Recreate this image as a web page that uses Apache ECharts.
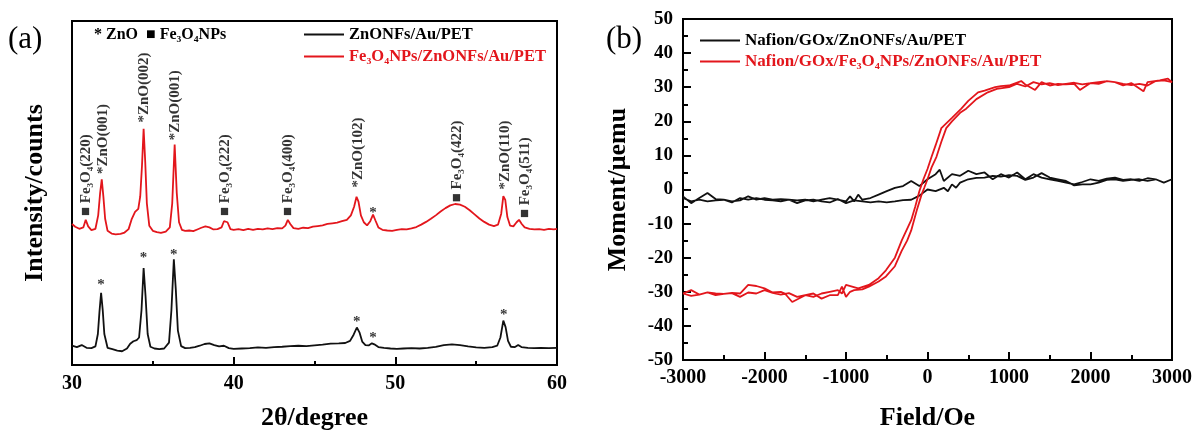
<!DOCTYPE html>
<html>
<head>
<meta charset="utf-8">
<script src="https://cdn.jsdelivr.net/npm/echarts@6/dist/echarts.min.js"></script>
<style>
  html, body { margin: 0; padding: 0; background: #fff; }
  #main { width: 1195px; height: 436px; }
</style>
</head>
<body>
<div id="main"></div>
<script>
var chart = echarts.init(document.getElementById('main'));

var RED = '#e3161c';
var BLACK = '#111111';
var SERIF = 'Liberation Serif';

// (a) XRD patterns, [2theta, intensity (a.u., offset)]
var xrdBlack = [
    [30.0, 5.6], [30.3, 5.2], [30.6, 5.8], [30.9, 5.0], [31.2, 4.9], [31.45, 5.4], [31.6, 9.0], [31.7, 15.5],
    [31.8, 21.0], [31.9, 16.0], [32.0, 9.0], [32.2, 5.0], [32.5, 4.6], [32.8, 4.2], [33.1, 4.0], [33.4, 4.8],
    [33.6, 6.2], [33.8, 6.9], [34.0, 7.2], [34.15, 8.0], [34.3, 16.0], [34.43, 28.2], [34.55, 20.0],
    [34.68, 9.0], [34.85, 5.3], [35.1, 4.8], [35.4, 4.6], [35.7, 4.8], [36.0, 6.5], [36.15, 16.0],
    [36.3, 30.7], [36.42, 22.0], [36.55, 10.0], [36.75, 5.5], [37.0, 4.9], [37.3, 5.0], [37.6, 5.2],
    [37.9, 5.6], [38.2, 6.1], [38.5, 6.3], [38.8, 5.8], [39.1, 5.4], [39.4, 5.6], [39.7, 4.9], [40.0, 4.7],
    [40.5, 4.8], [41.0, 4.9], [41.5, 5.1], [42.0, 5.0], [42.5, 5.2], [43.0, 5.3], [43.5, 5.5], [44.0, 5.6],
    [44.5, 5.5], [45.0, 5.7], [45.5, 5.9], [46.0, 6.2], [46.5, 6.3], [46.9, 6.4], [47.2, 7.0], [47.42, 8.8],
    [47.62, 10.9], [47.78, 9.5], [47.95, 6.8], [48.15, 5.8], [48.35, 5.7], [48.55, 6.3], [48.7, 6.0],
    [48.95, 5.2], [49.3, 5.0], [49.7, 4.8], [50.1, 4.7], [50.5, 4.8], [51.0, 4.9], [51.5, 4.8], [52.0, 5.0],
    [52.5, 5.3], [53.0, 5.8], [53.5, 6.0], [54.0, 5.8], [54.5, 5.4], [55.0, 5.1], [55.5, 5.0], [56.0, 5.2],
    [56.3, 5.6], [56.5, 8.0], [56.68, 12.9], [56.82, 11.0], [56.97, 7.0], [57.15, 5.3], [57.4, 5.2],
    [57.6, 5.8], [57.8, 5.2], [58.2, 5.0], [58.6, 4.9], [59.0, 5.0], [59.5, 4.9], [60.0, 5.0]
];

var xrdRed = [
    [30.0, 41.0], [30.2, 40.2], [30.45, 39.6], [30.7, 40.0], [30.85, 42.2], [31.0, 40.3], [31.2, 39.2],
    [31.45, 39.6], [31.62, 43.5], [31.74, 50.0], [31.84, 54.0], [31.94, 49.0], [32.05, 42.5], [32.2, 39.0],
    [32.45, 38.2], [32.7, 38.0], [33.0, 38.1], [33.25, 38.5], [33.5, 39.5], [33.7, 42.5], [33.9, 44.5],
    [34.1, 45.4], [34.22, 49.0], [34.33, 58.0], [34.43, 68.7], [34.53, 59.0], [34.63, 47.0], [34.78, 40.5],
    [35.0, 39.0], [35.25, 38.6], [35.5, 38.4], [35.8, 38.8], [36.05, 40.0], [36.2, 47.0], [36.35, 64.1],
    [36.48, 50.0], [36.62, 41.5], [36.8, 39.3], [37.0, 39.0], [37.25, 39.1], [37.5, 38.9], [37.75, 39.4],
    [38.0, 39.9], [38.25, 40.3], [38.5, 40.0], [38.75, 39.4], [39.0, 39.5], [39.25, 40.0], [39.4, 41.8],
    [39.5, 42.2], [39.62, 41.5], [39.8, 39.5], [40.0, 39.3], [40.3, 39.5], [40.6, 39.2], [40.9, 39.6],
    [41.2, 39.3], [41.5, 39.6], [41.8, 39.4], [42.1, 39.7], [42.4, 39.5], [42.7, 39.8], [43.0, 39.7],
    [43.2, 40.5], [43.35, 42.2], [43.5, 41.0], [43.7, 39.8], [44.0, 39.6], [44.3, 39.9], [44.6, 39.8],
    [44.9, 40.2], [45.2, 40.4], [45.5, 40.6], [45.8, 41.0], [46.1, 41.2], [46.4, 41.4], [46.7, 41.8],
    [47.0, 42.2], [47.25, 43.5], [47.45, 46.0], [47.6, 48.9], [47.72, 47.5], [47.87, 43.5], [48.05, 41.5],
    [48.25, 40.6], [48.45, 41.8], [48.62, 43.7], [48.77, 42.0], [48.95, 40.0], [49.2, 39.3], [49.5, 39.1],
    [49.8, 39.0], [50.1, 39.3], [50.4, 39.5], [50.7, 39.4], [51.0, 39.7], [51.3, 40.1], [51.6, 40.8],
    [51.9, 41.6], [52.2, 42.5], [52.5, 43.5], [52.8, 44.6], [53.1, 45.6], [53.4, 46.4], [53.7, 46.8],
    [54.0, 46.6], [54.3, 46.0], [54.6, 45.0], [54.9, 43.8], [55.2, 42.6], [55.5, 41.6], [55.8, 40.8],
    [56.1, 40.4], [56.35, 40.8], [56.55, 44.0], [56.68, 49.1], [56.8, 48.0], [56.93, 43.0], [57.1, 40.5],
    [57.3, 40.3], [57.5, 41.5], [57.65, 42.2], [57.82, 41.0], [58.0, 40.0], [58.3, 39.6], [58.6, 39.4],
    [58.9, 39.5], [59.2, 39.3], [59.5, 39.6], [59.8, 39.4], [60.0, 39.6]
];

// peak labels: [2theta, intensity at label foot, text]
var peakLabels = [
    [30.85, 43.3, '■ Fe₃O₄(220)'],
    [31.92, 55.5, '*ZnO(001)'],
    [34.45, 70.5, '*ZnO(002)'],
    [36.4, 65.3, '*ZnO(001)'],
    [39.48, 43.3, '■ Fe₃O₄(222)'],
    [43.35, 43.3, '■ Fe₃O₄(400)'],
    [47.67, 51.6, '*ZnO(102)'],
    [53.82, 47.3, '■ Fe₃O₄(422)'],
    [56.8, 51.0, '*ZnO(110)'],
    [58.05, 42.7, '■ Fe₃O₄(511)']
];
var starMarks = [
    [31.8, 23.2], [34.43, 31.2], [36.3, 31.8], [47.62, 12.6], [48.62, 7.7], [56.7, 14.6], [48.62, 44.1]
];

// (b) M-H loops, [field Oe, moment uemu]
var blackUp = [
    [-3000, -2.5], [-2900, -3.5], [-2800, -3.0], [-2700, -3.5], [-2600, -3.2], [-2500, -3.0], [-2400, -3.8],
    [-2300, -2.5], [-2200, -3.0], [-2100, -2.5], [-2000, -3.0], [-1900, -3.2], [-1800, -3.5], [-1700, -3.0],
    [-1600, -4.0], [-1500, -3.2], [-1400, -3.0], [-1300, -3.5], [-1200, -3.8], [-1100, -2.8], [-1000, -4.0],
    [-900, -3.2], [-800, -3.5], [-700, -3.8], [-600, -3.5], [-500, -3.8], [-400, -3.5], [-300, -3.1],
    [-200, -3.0], [-100, -1.8], [0, 0.0], [100, -0.5], [200, 0.5], [250, -0.5], [300, 1.5], [350, 0.5],
    [400, 2.0], [500, 3.0], [600, 3.4], [700, 3.5], [800, 4.0], [900, 3.8], [1000, 4.2], [1100, 4.0],
    [1200, 2.8], [1300, 3.5], [1400, 4.8], [1500, 3.5], [1600, 3.0], [1700, 2.5], [1800, 1.2], [1900, 1.5],
    [2000, 1.5], [2100, 2.0], [2200, 2.8], [2300, 3.0], [2400, 2.5], [2500, 2.8], [2600, 3.0], [2700, 2.5],
    [2800, 3.0], [2900, 2.0], [3000, 3.0]
];
var blackDown = [
    [3000, 3.0], [2900, 2.0], [2800, 3.0], [2700, 3.3], [2600, 2.5], [2500, 3.0], [2400, 2.8], [2300, 3.5],
    [2200, 3.2], [2100, 2.5], [2000, 3.0], [1900, 2.2], [1800, 1.5], [1700, 2.0], [1600, 2.5], [1500, 3.0],
    [1400, 3.5], [1300, 4.5], [1200, 3.0], [1100, 5.0], [1000, 3.5], [900, 4.5], [800, 3.0], [700, 5.0],
    [600, 4.5], [500, 5.5], [400, 4.0], [300, 4.5], [200, 2.5], [150, 5.8], [100, 4.5], [0, 3.0],
    [-100, 1.0], [-200, 2.5], [-300, 1.0], [-400, 0.5], [-500, -0.5], [-600, -1.5], [-700, -2.5],
    [-800, -3.0], [-850, -1.5], [-900, -3.5], [-950, -2.0], [-1000, -3.5], [-1100, -3.0], [-1200, -2.5],
    [-1300, -3.0], [-1400, -3.5], [-1500, -3.0], [-1600, -3.2], [-1700, -3.0], [-1800, -2.8], [-1900, -3.0],
    [-2000, -2.5], [-2100, -3.0], [-2200, -2.0], [-2300, -3.2], [-2400, -3.5], [-2500, -3.0], [-2600, -2.8],
    [-2700, -1.0], [-2800, -2.5], [-2900, -4.0], [-3000, -2.0]
];
var redUp = [
    [-3000, -30.5], [-2900, -31.2], [-2800, -30.8], [-2700, -30.2], [-2600, -30.5], [-2500, -30.6],
    [-2400, -30.4], [-2300, -31.5], [-2200, -30.2], [-2100, -30.5], [-2000, -29.5], [-1900, -30.3],
    [-1800, -30.8], [-1700, -30.4], [-1600, -31.5], [-1500, -31.0], [-1400, -30.5], [-1300, -32.0],
    [-1200, -31.0], [-1100, -31.0], [-1050, -28.5], [-1000, -31.5], [-950, -30.0], [-900, -29.5],
    [-800, -29.3], [-720, -28.5], [-600, -27.0], [-510, -25.5], [-400, -22.5], [-317, -18.0], [-250, -15.0],
    [-200, -12.0], [-134, -6.3], [-73, -1.5], [-40, 0.5], [0, 3.0], [50, 6.5], [110, 9.6], [170, 14.0],
    [230, 18.0], [300, 20.0], [400, 22.5], [475, 23.7], [600, 26.5], [740, 28.5], [850, 29.5], [1000, 30.0],
    [1100, 31.0], [1200, 30.2], [1300, 31.5], [1400, 30.8], [1500, 31.2], [1600, 30.6], [1700, 31.0],
    [1800, 31.3], [1900, 30.8], [2000, 31.2], [2100, 31.5], [2200, 31.8], [2300, 31.5], [2400, 31.0],
    [2500, 30.6], [2600, 31.0], [2700, 30.5], [2800, 31.8], [2900, 32.0], [3000, 31.5]
];
var redDown = [
    [3000, 31.5], [2950, 32.5], [2850, 32.0], [2700, 31.5], [2650, 28.8], [2500, 31.2], [2400, 30.5],
    [2300, 31.5], [2200, 31.8], [2100, 31.0], [2000, 31.2], [1870, 29.2], [1800, 31.0], [1700, 30.8],
    [1600, 31.0], [1500, 30.5], [1400, 31.5], [1320, 29.2], [1200, 30.8], [1150, 31.8], [1000, 30.5],
    [900, 30.3], [830, 30.0], [700, 29.0], [620, 28.5], [500, 26.0], [415, 23.7], [300, 21.0], [170, 18.0],
    [100, 13.0], [50, 9.6], [0, 6.0], [-50, 3.0], [-100, -0.5], [-150, -5.0], [-200, -9.0], [-317, -15.0],
    [-400, -20.0], [-510, -23.7], [-600, -26.0], [-720, -28.0], [-850, -29.0], [-1000, -28.0],
    [-1050, -30.5], [-1100, -29.5], [-1200, -30.0], [-1300, -30.5], [-1400, -31.5], [-1500, -31.0],
    [-1660, -33.0], [-1750, -30.5], [-1800, -30.0], [-1900, -30.2], [-2000, -29.0], [-2100, -28.3],
    [-2200, -28.0], [-2300, -30.5], [-2400, -30.3], [-2500, -30.6], [-2600, -31.0], [-2700, -30.2],
    [-2800, -30.8], [-2900, -29.5], [-3000, -30.5]
];

var boldText = function (size) {
    return {color: '#000', fontFamily: SERIF, fontWeight: 'bold', fontSize: size};
};
var tickStyle = {color: '#000', width: 2};

var option = {
    backgroundColor: '#fff',
    animation: false,
    graphic: [
        {type: 'text', left: 8, top: 24, style: {text: '(a)', font: '31px "Liberation Serif"', fill: '#000'}},
        {type: 'text', left: 606, top: 24, style: {text: '(b)', font: '31px "Liberation Serif"', fill: '#000'}},
        {type: 'text', left: 94, top: 27, style: {text: '* ZnO  ■ Fe₃O₄NPs', font: 'bold 16px "Liberation Serif"', fill: '#000'}}
    ],
    legend: [
        {
            left: 304, top: 26, padding: 0, orient: 'vertical', itemGap: 5, itemWidth: 40, itemHeight: 2,
            icon: 'rect', textStyle: boldText(16.5),
            data: [
                {name: 'ZnONFs/Au/PET', textStyle: {color: '#000'}},
                {name: 'Fe₃O₄NPs/ZnONFs/Au/PET', textStyle: {color: RED}}
            ]
        },
        {
            left: 700, top: 32, padding: 0, orient: 'vertical', itemGap: 4, itemWidth: 40, itemHeight: 2,
            icon: 'rect', textStyle: boldText(17),
            data: [
                {name: 'Nafion/GOx/ZnONFs/Au/PET', textStyle: {color: '#000'}},
                {name: 'Nafion/GOx/Fe₃O₄NPs/ZnONFs/Au/PET', textStyle: {color: RED}}
            ]
        }
    ],
    grid: [
        {left: 72, top: 21, width: 485, height: 349, show: true, borderColor: '#000', borderWidth: 2},
        {left: 683, top: 19, width: 492, height: 350, show: true, borderColor: '#000', borderWidth: 2}
    ],
    xAxis: [
        {
            gridIndex: 0, type: 'value', min: 30, max: 60, interval: 10,
            name: '2θ/degree', nameLocation: 'middle', nameGap: 40, nameTextStyle: boldText(26),
            axisLine: {onZero: false, lineStyle: tickStyle},
            axisTick: {inside: true, length: 8, lineStyle: tickStyle},
            minorTick: {show: true, splitNumber: 2, length: 4, lineStyle: tickStyle},
            axisLabel: Object.assign({margin: 9}, boldText(20)),
            splitLine: {show: false}
        },
        {
            gridIndex: 1, type: 'value', min: -3000, max: 3000, interval: 1000,
            name: 'Field/Oe', nameLocation: 'middle', nameGap: 45, nameTextStyle: boldText(26),
            axisLine: {onZero: false, lineStyle: tickStyle},
            axisTick: {inside: true, length: 8, lineStyle: tickStyle},
            minorTick: {show: true, splitNumber: 2, length: 5, lineStyle: tickStyle},
            axisLabel: Object.assign({margin: 8, formatter: function (v) { return String(v); }}, boldText(20)),
            splitLine: {show: false}
        }
    ],
    yAxis: [
        {
            gridIndex: 0, type: 'value', min: 0, max: 100,
            name: 'Intensity/counts', nameLocation: 'middle', nameGap: 24, nameTextStyle: boldText(26),
            axisLine: {onZero: false, lineStyle: tickStyle},
            axisTick: {show: false}, axisLabel: {show: false}, splitLine: {show: false}
        },
        {
            gridIndex: 1, type: 'value', min: -50, max: 50, interval: 10,
            name: 'Moment/μemu', nameLocation: 'middle', nameGap: 52, nameTextStyle: boldText(26),
            axisLine: {onZero: false, lineStyle: tickStyle},
            axisTick: {inside: true, length: 8, lineStyle: tickStyle},
            minorTick: {show: true, splitNumber: 2, length: 5, lineStyle: tickStyle},
            axisLabel: Object.assign({margin: 10}, boldText(19)),
            splitLine: {show: false}
        }
    ],
    series: [
        {
            name: 'ZnONFs/Au/PET', type: 'line', xAxisIndex: 0, yAxisIndex: 0,
            showSymbol: false, symbol: 'none', data: xrdBlack,
            lineStyle: {color: BLACK, width: 1.8}, itemStyle: {color: BLACK}
        },
        {
            name: 'Fe₃O₄NPs/ZnONFs/Au/PET', type: 'line', xAxisIndex: 0, yAxisIndex: 0,
            showSymbol: false, symbol: 'none', data: xrdRed,
            lineStyle: {color: RED, width: 1.8}, itemStyle: {color: RED}
        },
        {
            type: 'scatter', xAxisIndex: 0, yAxisIndex: 0, symbolSize: 1, silent: true,
            itemStyle: {color: 'rgba(0,0,0,0)'},
            data: peakLabels,
            label: Object.assign({
                show: true, position: 'inside', rotate: 90, align: 'left', verticalAlign: 'middle',
                formatter: function (p) { return p.value[2]; }
            }, boldText(15))
        },
        {
            type: 'scatter', xAxisIndex: 0, yAxisIndex: 0, symbolSize: 1, silent: true,
            itemStyle: {color: 'rgba(0,0,0,0)'},
            data: starMarks,
            label: Object.assign({show: true, position: 'inside', formatter: '*'}, boldText(15))
        },
        {
            name: 'Nafion/GOx/ZnONFs/Au/PET', type: 'line', xAxisIndex: 1, yAxisIndex: 1,
            showSymbol: false, symbol: 'none', data: blackUp.concat(blackDown),
            lineStyle: {color: BLACK, width: 1.8}, itemStyle: {color: BLACK}
        },
        {
            name: 'Nafion/GOx/Fe₃O₄NPs/ZnONFs/Au/PET', type: 'line', xAxisIndex: 1, yAxisIndex: 1,
            showSymbol: false, symbol: 'none', data: redUp.concat(redDown),
            lineStyle: {color: RED, width: 1.8}, itemStyle: {color: RED}
        }
    ]
};

chart.setOption(option);
</script>
</body>
</html>
